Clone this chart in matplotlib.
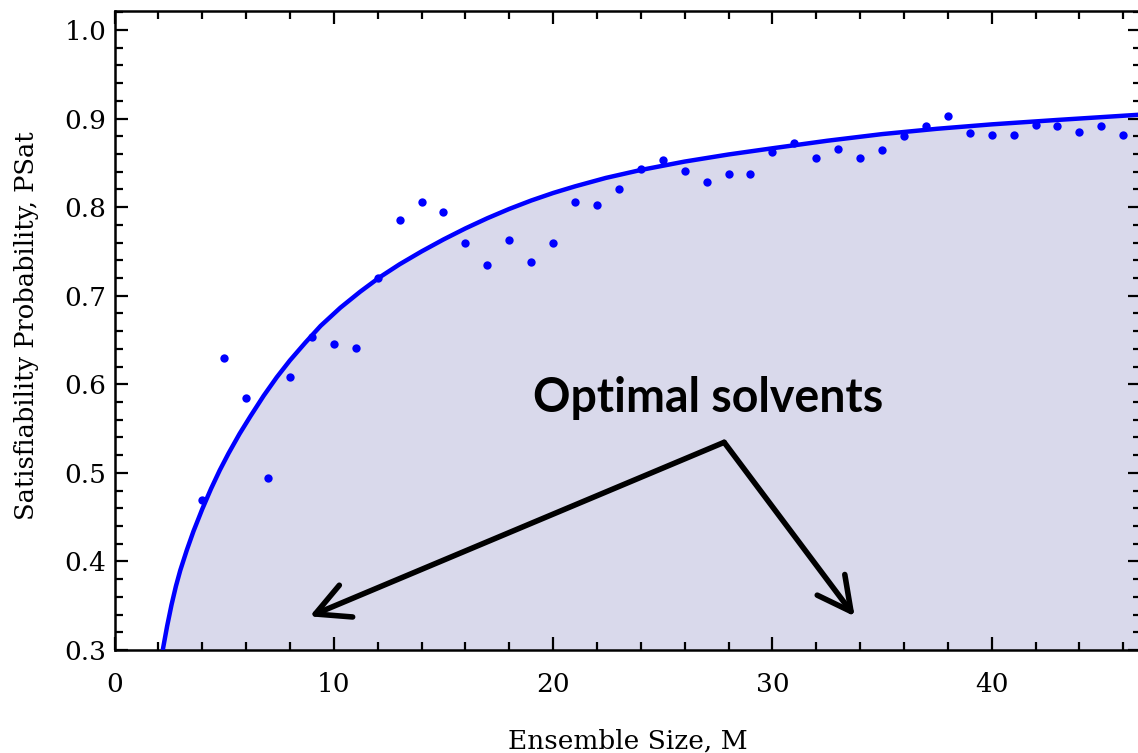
import matplotlib
matplotlib.use('Agg')
import matplotlib.pyplot as plt
from matplotlib.ticker import MultipleLocator, FixedLocator

plt.rcParams['font.family'] = ['DejaVu Serif']

# measured points (ensemble size M, satisfiability probability)
ensemble_size = [4, 5, 6, 7, 8, 9, 10, 11, 12, 13, 14, 15, 16, 17, 18, 19, 20,
                 21, 22, 23, 24, 25, 26, 27, 28, 29, 30, 31, 32, 33, 34, 35,
                 36, 37, 38, 39, 40, 41, 42, 43, 44, 45, 46]
psat = [0.469, 0.630, 0.584, 0.494, 0.608, 0.653, 0.645, 0.641, 0.720, 0.785,
        0.806, 0.795, 0.760, 0.735, 0.763, 0.738, 0.760, 0.806, 0.802, 0.820,
        0.843, 0.853, 0.841, 0.828, 0.838, 0.838, 0.862, 0.872, 0.856, 0.866,
        0.856, 0.864, 0.880, 0.892, 0.903, 0.884, 0.881, 0.881, 0.893, 0.892,
        0.885, 0.892, 0.882]

# fitted curve
fit_m = [2.2, 2.4, 2.6, 2.8, 3.0, 3.3, 3.6, 4.0, 4.4, 4.8, 5.2, 5.7, 6.2, 6.8,
         7.4, 8.0, 8.7, 9.4, 10.3, 11.2, 12.1, 13.0, 14.0, 15.0, 16.0, 17.0,
         18.0, 19.0, 20.0, 21.0, 22.4, 24.0, 26.0, 28.0, 30.0, 32.5, 35.0,
         37.5, 40.0, 43.0, 46.8]
fit_p = [0.300, 0.327, 0.351, 0.372, 0.390, 0.413, 0.434, 0.459, 0.482, 0.503,
         0.522, 0.544, 0.564, 0.587, 0.608, 0.627, 0.647, 0.666, 0.6865, 0.7045,
         0.721, 0.7355, 0.750, 0.7635, 0.776, 0.7875, 0.798, 0.8075, 0.816,
         0.8235, 0.833, 0.842, 0.8515, 0.8595, 0.8665, 0.875, 0.8825, 0.8885,
         0.8935, 0.8985, 0.9045]

x_major = [0, 10, 20, 30, 40]
y_major = [0.3, 0.4, 0.5, 0.6, 0.7, 0.8, 0.9, 1.0]

fig = plt.figure(figsize=(11.38, 7.53), dpi=100)
ax = fig.add_axes([114.5 / 1138, 103 / 753, 1026 / 1138, 639 / 753])

ax.fill_between(fit_m, fit_p, 0.3, color='#d9d9eb', lw=0, zorder=1)
ax.plot(fit_m, fit_p, color='#0000ff', lw=3.2, zorder=3,
        solid_capstyle='butt', solid_joinstyle='round')
ax.plot(ensemble_size, psat, 'o', color='#0000ff', ms=6, mec='none', zorder=4)

ax.set_xlim(0, 1026 / 21.93)
ax.set_ylim(0.3, 1.0215)

ax.xaxis.set_major_locator(FixedLocator(x_major))
ax.xaxis.set_minor_locator(MultipleLocator(2))
ax.yaxis.set_major_locator(FixedLocator(y_major))
ax.yaxis.set_minor_locator(MultipleLocator(0.02))
ax.set_yticklabels([f'{v:.1f}' for v in y_major])

for s in ax.spines.values():
    s.set_linewidth(1.8)
ax.tick_params(which='both', direction='in', top=True, right=True, width=1.6)
ax.tick_params(which='major', length=9.5)
ax.tick_params(which='minor', length=5.5)
ax.tick_params(axis='x', which='major', labelsize=19, pad=16)
ax.tick_params(axis='y', which='major', labelsize=19, pad=6)

fig.text(27 / 1138, 1 - 326 / 753, 'Satisfiability Probability, PSat',
         rotation=90, ha='center', va='center', fontsize=18.5)
fig.text(628 / 1138, 1 - 749 / 753, 'Ensemble Size, M',
         ha='center', va='baseline', fontsize=19)

# annotation
ax.text(19.1, 0.5685, 'Optimal solvents', fontsize=33.5, fontweight='bold',
        family='Lato', va='baseline', ha='left', zorder=6)
arrow_kw = dict(arrowstyle='->,head_length=1.2,head_width=0.62',
                mutation_scale=20, lw=4, color='black',
                capstyle='round', joinstyle='round',
                shrinkA=0, shrinkB=0)
ax.annotate('', xy=(8.9, 0.338), xytext=(27.8, 0.5345), arrowprops=arrow_kw, zorder=6)
ax.annotate('', xy=(33.75, 0.338), xytext=(27.8, 0.5345), arrowprops=arrow_kw, zorder=6)

fig.savefig('out.png', dpi=100)
